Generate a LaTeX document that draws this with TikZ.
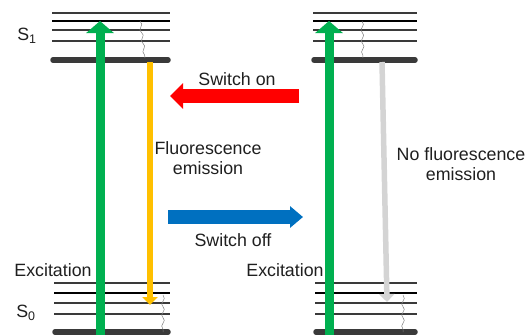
\documentclass[tikz,border=0pt]{standalone}
\usepackage{fontspec}
\setmainfont{Liberation Sans}
\usetikzlibrary{arrows.meta,decorations.pathmorphing}
\definecolor{excgreen}{HTML}{00B050}
\definecolor{fluoamber}{HTML}{FFC000}
\definecolor{onred}{HTML}{FF0000}
\definecolor{offblue}{HTML}{0070C0}
\definecolor{quench}{HTML}{D4D4D4}
\definecolor{lvl}{HTML}{3A3A3A}
\tikzset{
  thinlvl/.style = {line width=1.7pt, draw=lvl},
  boldlvl/.style = {line width=2.8pt, draw=black},
  baselvl/.style = {line width=5.5pt, draw=lvl, line cap=round},
  relax/.style   = {draw=gray, line width=0.5pt, decorate,
                    decoration={snake, amplitude=1.3pt, segment length=11pt}},
  excite/.style  = {line width=9pt, draw=excgreen, -{Triangle[width=27pt,length=12pt]}},
  emit/.style    = {line width=5.5pt, draw=#1, -{Triangle[width=15pt,length=8pt]}},
  switch/.style 2 args = {line width=14pt, draw=#1, -{Triangle[width=#2,length=13pt]}},
  lbl/.style     = {font=\fontsize{17.8}{20}\selectfont, align=center, text=black!88, inner sep=0pt},
}

\begin{document}
\begin{tikzpicture}[x=1pt, y=-1pt]
  \useasboundingbox (0,0) rectangle (532,335);
  \foreach \xa/\xb in {52/170, 313/417} {
    \draw[thinlvl] (\xa,13) -- (\xb,13);
    \draw[boldlvl] (\xa,21) -- (\xb,21);
    \draw[thinlvl] (\xa,30) -- (\xb,30);
    \draw[thinlvl] (\xa,41) -- (\xb,41);
    \draw[baselvl] (\xa+1,60) -- (\xb-2,60);
    \draw[thinlvl] (\xa+2,283) -- (\xb,283);
    \draw[boldlvl] (\xa+2,293) -- (\xb,293);
    \draw[thinlvl] (\xa+2,303) -- (\xb,303);
    \draw[thinlvl] (\xa+2,314) -- (\xb,314);
    \draw[baselvl] (\xa+3,332) -- (\xb-2,332);
  }
  \coordinate (vibL)  at (140,21);  \coordinate (relL)  at (145,58);
  \coordinate (vibL0) at (163,295); \coordinate (relL0) at (163,332);
  \coordinate (vibR)  at (362,21);  \coordinate (relR)  at (363,58);
  \coordinate (vibR0) at (403,295); \coordinate (relR0) at (403,332);
  \draw[relax] (vibL) -- (relL);
  \draw[relax] (vibL0) -- (relL0);
  \draw[relax] (vibR) -- (relR);
  \draw[relax] (vibR0) -- (relR0);

  \coordinate (gndL) at (100,335); \coordinate (upL) at (100,21);
  \coordinate (gndR) at (329,335); \coordinate (upR) at (329,21);
  \coordinate (s1L) at (150,62);   \coordinate (s0L) at (150,305);
  \coordinate (s1R) at (382,62);   \coordinate (s0R) at (387,302);
  \coordinate (onR) at (299,96);   \coordinate (onL) at (170,96);
  \coordinate (offL) at (168,217); \coordinate (offR) at (303,217);
  \draw[excite] (gndL) -- (upL);
  \draw[excite] (gndR) -- (upR);
  \draw[emit=fluoamber] (s1L) -- (s0L);
  \draw[emit=quench] (s1R) -- (s0R);
  \draw[switch={onred}{25pt}] (onR) -- (onL);
  \draw[switch={offblue}{21pt}] (offL) -- (offR);

  \node[lbl] (s1) at (27,36) {S\textsubscript{1}};
  \node[lbl] (s0) at (26,313) {S\textsubscript{0}};
  \node[lbl] (excL) at (53,270) {Excitation};
  \node[lbl] (excR) at (285,270) {Excitation};
  \node[lbl] (on) at (237,79) {Switch on};
  \node[lbl] (off) at (233,240) {Switch off};
  \node[lbl] (fluo) at (208,158) {Fluorescence\\emission};
  \node[lbl] (nofluo) at (461,164) {No fluorescence\\emission};
\end{tikzpicture}
\end{document}
